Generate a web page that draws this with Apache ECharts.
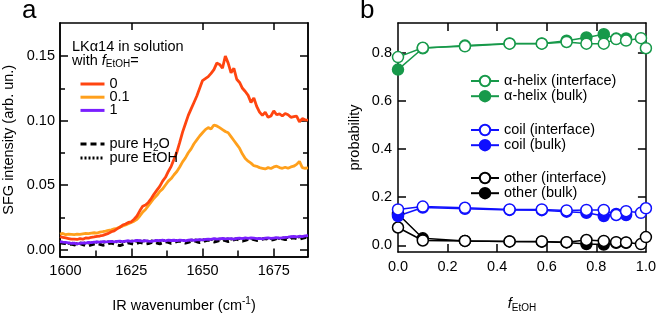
<!DOCTYPE html>
<html>
<head>
<meta charset="utf-8">
<script src="https://cdn.jsdelivr.net/npm/echarts@6.0.0/dist/echarts.min.js"></script>
<style>
  html, body { margin: 0; padding: 0; background: #fff; }
  #chart { width: 659px; height: 318px; }
</style>
</head>
<body>
<div id="chart"></div>
<script>
// ---- panel a: SFG spectra of LKa14 ----
const wavenumbers = [
  1600, 1601, 1602, 1603, 1604, 1605, 1606, 1607, 1608, 1609,
  1610, 1611, 1612, 1613, 1614, 1615, 1616, 1617, 1618, 1619,
  1620, 1621, 1622, 1623, 1624, 1625, 1626, 1627, 1628, 1629,
  1630, 1631, 1632, 1633, 1634, 1635, 1636, 1637, 1638, 1639,
  1640, 1641, 1642, 1643, 1644, 1645, 1646, 1647, 1648, 1649,
  1650, 1651, 1652, 1653, 1654, 1655, 1656, 1657, 1658, 1659,
  1660, 1661, 1662, 1663, 1664, 1665, 1666, 1667, 1668, 1669,
  1670, 1671, 1672, 1673, 1674, 1675, 1676, 1677, 1678, 1679,
  1680, 1681, 1682, 1683, 1684, 1685, 1686, 1687
];
const sfgF0 = [
  0.0100, 0.0095, 0.0090, 0.0085, 0.0080, 0.0080, 0.0078, 0.0085, 0.0080, 0.0090,
  0.0088, 0.0095, 0.0098, 0.0102, 0.0105, 0.0110, 0.0118, 0.0125, 0.0138, 0.0145,
  0.0160, 0.0172, 0.0190, 0.0198, 0.0210, 0.0215, 0.0235, 0.0260, 0.0300, 0.0335,
  0.0345, 0.0365, 0.0395, 0.0430, 0.0460, 0.0490, 0.0530, 0.0560, 0.0605, 0.0645,
  0.0700, 0.0755, 0.0830, 0.0910, 0.0975, 0.1040, 0.1090, 0.1140, 0.1190, 0.1250,
  0.1310, 0.1325, 0.1340, 0.1365, 0.1395, 0.1445, 0.1435, 0.1405, 0.1500, 0.1445,
  0.1370, 0.1405, 0.1320, 0.1295, 0.1250, 0.1225, 0.1195, 0.1140, 0.1175, 0.1110,
  0.1065, 0.1040, 0.1065, 0.1025, 0.1035, 0.1075, 0.1045, 0.1052, 0.1035, 0.1055,
  0.1045, 0.1025, 0.1030, 0.1035, 0.0990, 0.1015, 0.1005, 0.1003
];
const sfgF01 = [
  0.0120, 0.0125, 0.0115, 0.0120, 0.0118, 0.0116, 0.0120, 0.0118, 0.0122, 0.0125,
  0.0124, 0.0128, 0.0130, 0.0128, 0.0135, 0.0138, 0.0142, 0.0148, 0.0153, 0.0160,
  0.0165, 0.0175, 0.0182, 0.0190, 0.0200, 0.0210, 0.0220, 0.0235, 0.0260, 0.0290,
  0.0310, 0.0340, 0.0370, 0.0398, 0.0420, 0.0450, 0.0470, 0.0500, 0.0530, 0.0550,
  0.0580, 0.0605, 0.0640, 0.0680, 0.0710, 0.0750, 0.0780, 0.0820, 0.0850, 0.0880,
  0.0905, 0.0930, 0.0945, 0.0935, 0.0965, 0.0958, 0.0945, 0.0930, 0.0915, 0.0905,
  0.0875, 0.0845, 0.0815, 0.0785, 0.0740, 0.0705, 0.0685, 0.0670, 0.0650, 0.0645,
  0.0635, 0.0630, 0.0625, 0.0635, 0.0628, 0.0640, 0.0646, 0.0635, 0.0630, 0.0638,
  0.0630, 0.0640, 0.0646, 0.0660, 0.0683, 0.0635, 0.0630, 0.0633
];
const sfgF1 = [
  0.0062, 0.0058, 0.0055, 0.0052, 0.0048, 0.0050, 0.0043, 0.0047, 0.0052, 0.0050,
  0.0055, 0.0053, 0.0058, 0.0060, 0.0057, 0.0062, 0.0059, 0.0061, 0.0064, 0.0060,
  0.0063, 0.0066, 0.0062, 0.0065, 0.0068, 0.0064, 0.0067, 0.0071, 0.0068, 0.0066,
  0.0070, 0.0066, 0.0063, 0.0067, 0.0071, 0.0069, 0.0072, 0.0068, 0.0073, 0.0070,
  0.0072, 0.0069, 0.0073, 0.0071, 0.0068, 0.0072, 0.0075, 0.0071, 0.0074, 0.0077,
  0.0074, 0.0078, 0.0081, 0.0079, 0.0084, 0.0080, 0.0083, 0.0086, 0.0082, 0.0085,
  0.0084, 0.0081, 0.0086, 0.0088, 0.0085, 0.0090, 0.0087, 0.0091, 0.0088, 0.0084,
  0.0087, 0.0083, 0.0088, 0.0090, 0.0086, 0.0089, 0.0092, 0.0088, 0.0091, 0.0094,
  0.0096, 0.0099, 0.0101, 0.0098, 0.0103, 0.0100, 0.0106, 0.0108
];
const sfgH2O = [
  0.0052, 0.0048, 0.0045, 0.0038, 0.0042, 0.0035, 0.0040, 0.0046, 0.0038, 0.0030,
  0.0028, 0.0035, 0.0042, 0.0047, 0.0040, 0.0033, 0.0038, 0.0045, 0.0050, 0.0044,
  0.0036, 0.0030, 0.0038, 0.0046, 0.0052, 0.0045, 0.0040, 0.0048, 0.0055, 0.0050,
  0.0042, 0.0046, 0.0054, 0.0058, 0.0050, 0.0044, 0.0052, 0.0060, 0.0056, 0.0048,
  0.0053, 0.0061, 0.0065, 0.0058, 0.0050, 0.0056, 0.0063, 0.0068, 0.0060, 0.0054,
  0.0060, 0.0067, 0.0072, 0.0066, 0.0058, 0.0064, 0.0070, 0.0074, 0.0068, 0.0062,
  0.0067, 0.0075, 0.0080, 0.0072, 0.0065, 0.0070, 0.0078, 0.0083, 0.0076, 0.0070,
  0.0074, 0.0081, 0.0085, 0.0078, 0.0072, 0.0077, 0.0084, 0.0088, 0.0082, 0.0076,
  0.0080, 0.0087, 0.0091, 0.0085, 0.0079, 0.0086, 0.0092, 0.0095
];
const sfgEtOH = [
  0.0058, 0.0054, 0.0050, 0.0047, 0.0051, 0.0046, 0.0044, 0.0049, 0.0053, 0.0048,
  0.0052, 0.0056, 0.0054, 0.0058, 0.0055, 0.0059, 0.0057, 0.0060, 0.0058, 0.0062,
  0.0060, 0.0063, 0.0061, 0.0064, 0.0062, 0.0066, 0.0064, 0.0067, 0.0065, 0.0068,
  0.0066, 0.0064, 0.0067, 0.0065, 0.0069, 0.0067, 0.0070, 0.0068, 0.0071, 0.0069,
  0.0070, 0.0068, 0.0071, 0.0069, 0.0072, 0.0070, 0.0073, 0.0071, 0.0075, 0.0073,
  0.0076, 0.0074, 0.0078, 0.0077, 0.0080, 0.0078, 0.0081, 0.0083, 0.0080, 0.0082,
  0.0081, 0.0083, 0.0082, 0.0085, 0.0083, 0.0086, 0.0084, 0.0087, 0.0085, 0.0083,
  0.0085, 0.0082, 0.0086, 0.0087, 0.0084, 0.0087, 0.0089, 0.0086, 0.0089, 0.0091,
  0.0093, 0.0095, 0.0097, 0.0095, 0.0099, 0.0097, 0.0101, 0.0104
];
const aXLabels = [1600, 1625, 1650, 1675];
const aXTicksMajor = [1625, 1650, 1675];
const aXTicksMinor = [1612.5, 1637.5, 1662.5];
const aYLabels = [0, 0.05, 0.10, 0.15];
const aYTicksMinor = [0.025, 0.075, 0.125];

// ---- panel b: secondary structure probability ----
const fInterface = [0, 0.1, 0.27, 0.45, 0.58, 0.68, 0.76, 0.83, 0.88, 0.92, 0.98, 1.0];
const fBulk = [0, 0.1, 0.27, 0.45, 0.58, 0.68, 0.76, 0.83, 0.88, 0.92];
const helixInterface = [0.783, 0.822, 0.828, 0.839, 0.839, 0.846, 0.839, 0.839, 0.858, 0.852, 0.862, 0.820];
const helixBulk = [0.731, 0.820, 0.831, 0.840, 0.840, 0.851, 0.865, 0.878, 0.860, 0.861];
const coilInterface = [0.149, 0.161, 0.156, 0.149, 0.149, 0.145, 0.147, 0.147, 0.126, 0.142, 0.135, 0.154];
const coilBulk = [0.122, 0.157, 0.152, 0.147, 0.146, 0.140, 0.135, 0.122, 0.130, 0.126];
const otherInterface = [0.074, 0.020, 0.018, 0.016, 0.016, 0.013, 0.022, 0.018, 0.013, 0.012, 0.005, 0.034];
const otherBulk = [0.130, 0.029, 0.018, 0.016, 0.015, 0.012, 0.005, 0.003, 0.010, 0.010];
const bXLabels = [0, 0.2, 0.4, 0.6, 0.8, 1.0];
const bXTicks = [0.2, 0.4, 0.6, 0.8];
const bYLabels = [0, 0.2, 0.4, 0.6, 0.8];

const black = '#000';
const font = '"Liberation Sans", Arial, sans-serif';
const fs = 14.5;
const red = '#ff4510';
const orange = '#ffa01c';
const purple = '#7a1fff';
const green = '#17994a';
const blue = '#1010ff';

const pairs = (xs, ys) => xs.map((x, i) => [x, ys[i]]);

const subRich = {
  i: { fontStyle: 'italic', fontSize: fs, fontFamily: font, color: black },
  sub: { fontSize: 10, fontFamily: font, color: black, padding: [8, 0, 0, 0] },
  sup: { fontSize: 10, fontFamily: font, color: black, padding: [0, 0, 8, 0] },
  first: { fontSize: fs, fontFamily: font, color: black, padding: [0, 0, 0, 11] }
};

function axis(grid, pos, min, max, ticks, len, labels, extra) {
  return Object.assign({
    type: 'value', gridIndex: grid, position: pos, min: min, max: max,
    splitLine: { show: false },
    axisLine: { show: true, onZero: false, lineStyle: { color: black, width: 1.5 } },
    axisTick: { show: true, inside: true, length: len, customValues: ticks, lineStyle: { color: black, width: 1.5 } },
    axisLabel: labels
      ? { show: true, customValues: labels, color: black, fontSize: fs, fontFamily: font, margin: 6, rich: subRich }
      : { show: false }
  }, extra || {});
}

function spectrum(name, ys, color, type) {
  return {
    name: name, type: 'line', xAxisIndex: 0, yAxisIndex: 0,
    data: pairs(wavenumbers, ys), symbol: 'none',
    lineStyle: { color: color, width: 2.8, type: type || 'solid' },
    itemStyle: { color: color, opacity: 0 }
  };
}

function probSeries(name, xs, ys, color, filled) {
  return {
    name: name, type: 'line', xAxisIndex: 3, yAxisIndex: 4,
    data: pairs(xs, ys), symbol: 'circle', symbolSize: 11,
    lineStyle: { color: color, width: 1.5 },
    itemStyle: { color: filled ? color : '#fff', borderColor: color, borderWidth: 1.5 }
  };
}

const legendText = { fontSize: fs, fontFamily: font, color: black, lineHeight: 16 };
const legendTextSub = { fontSize: fs, fontFamily: font, color: black, lineHeight: 16, rich: subRich };

const chart = echarts.init(document.getElementById('chart'));
chart.setOption({
  animation: false,
  backgroundColor: '#fff',
  grid: [
    { left: 57, top: 23, width: 251, height: 245 },
    { left: 398, top: 23, width: 252, height: 245 }
  ],
  xAxis: [
    axis(0, 'bottom', 1600, 1687, aXTicksMajor, 8, aXLabels, {
      name: 'IR wavenumber (cm{sup|-1})', nameLocation: 'middle', nameGap: 40,
      nameTextStyle: { fontSize: fs, fontFamily: font, color: black, rich: subRich },
      axisLabel: { show: true, customValues: aXLabels, color: black, fontSize: fs, fontFamily: font, margin: 7, rich: subRich,
        formatter: v => (v === 1600 ? '{first|1600}' : String(v)) }
    }),
    axis(0, 'bottom', 1600, 1687, aXTicksMinor, 6, null),
    axis(0, 'top', 1600, 1687, aXTicksMajor, 7, null),
    axis(1, 'bottom', 0, 1, bXTicks, 8, bXLabels, {
      name: '{i|f}{sub|EtOH}', nameLocation: 'middle', nameGap: 43,
      nameTextStyle: { fontSize: fs, fontFamily: font, color: black, rich: subRich },
      axisLabel: { show: true, customValues: bXLabels, color: black, fontSize: fs, fontFamily: font, margin: 7,
        formatter: v => v.toFixed(1) }
    }),
    axis(1, 'top', 0, 1, bXTicks, 8, null)
  ],
  yAxis: [
    axis(0, 'left', -0.0054, 0.1756, aYLabels, 8, aYLabels, {
      name: 'SFG intensity (arb. un.)', nameLocation: 'middle', nameGap: 44,
      nameTextStyle: { fontSize: fs, fontFamily: font, color: black },
      axisLabel: { show: true, customValues: aYLabels, color: black, fontSize: fs, fontFamily: font, margin: 5,
        formatter: v => v.toFixed(2) }
    }),
    axis(0, 'left', -0.0054, 0.1756, aYTicksMinor, 5, null),
    axis(0, 'right', -0.0054, 0.1756, aYLabels, 8, null),
    axis(0, 'right', -0.0054, 0.1756, aYTicksMinor, 5, null),
    axis(1, 'left', -0.028, 0.925, bYLabels, 8, bYLabels, {
      name: 'probability', nameLocation: 'middle', nameGap: 36,
      nameTextStyle: { fontSize: fs, fontFamily: font, color: black },
      axisLabel: { show: true, customValues: bYLabels, color: black, fontSize: fs, fontFamily: font, margin: 6,
        formatter: v => v.toFixed(1) }
    }),
    axis(1, 'right', -0.028, 0.925, bYLabels, 8, null)
  ],
  legend: [
    { data: ['0', '0.1', '1'], left: 74, top: 71, orient: 'vertical', itemWidth: 24, itemHeight: 12,
      itemGap: -2.8, selectedMode: false, textStyle: legendText,
      itemStyle: { opacity: 0 }, lineStyle: { width: 3 } },
    { data: ['pure H2O', 'pure EtOH'], left: 74, top: 131, orient: 'vertical', itemWidth: 24, itemHeight: 12,
      itemGap: -3, selectedMode: false, textStyle: legendTextSub,
      itemStyle: { opacity: 0 }, lineStyle: { width: 3 },
      formatter: n => (n === 'pure H2O' ? 'pure H{sub|2}O' : n) },
    { data: ['α-helix (interface)', 'α-helix (bulk)'], left: 465, top: 68, orient: 'vertical', itemWidth: 28,
      itemHeight: 13, itemGap: -0.8, selectedMode: false, textStyle: legendText },
    { data: ['coil (interface)', 'coil (bulk)'], left: 465, top: 117, orient: 'vertical', itemWidth: 28,
      itemHeight: 13, itemGap: -0.8, selectedMode: false, textStyle: legendText },
    { data: ['other (interface)', 'other (bulk)'], left: 465, top: 165, orient: 'vertical', itemWidth: 28,
      itemHeight: 13, itemGap: -0.8, selectedMode: false, textStyle: legendText }
  ],
  graphic: [
    { type: 'text', left: 22, top: -2, style: { text: 'a', font: '26px "Liberation Sans", Arial', fill: black } },
    { type: 'text', left: 360, top: -2, style: { text: 'b', font: '26px "Liberation Sans", Arial', fill: black } },
    { type: 'text', left: 72, top: 39, style: { text: 'LKα14 in solution', font: fs + 'px "Liberation Sans", Arial', fill: black } },
    { type: 'text', left: 72, top: 53, style: { text: 'with {i|f}{sub|EtOH}=', fontSize: fs, fontFamily: font, fill: black, rich: subRich } }
  ],
  series: [
    spectrum('pure EtOH', sfgEtOH, black, [2, 2]),
    spectrum('pure H2O', sfgH2O, black, [6, 4]),
    spectrum('1', sfgF1, purple),
    spectrum('0.1', sfgF01, orange),
    spectrum('0', sfgF0, red),
    probSeries('α-helix (bulk)', fBulk, helixBulk, green, true),
    probSeries('α-helix (interface)', fInterface, helixInterface, green, false),
    probSeries('other (bulk)', fBulk, otherBulk, black, true),
    probSeries('other (interface)', fInterface, otherInterface, black, false),
    probSeries('coil (bulk)', fBulk, coilBulk, blue, true),
    probSeries('coil (interface)', fInterface, coilInterface, blue, false)
  ]
});
</script>
</body>
</html>
